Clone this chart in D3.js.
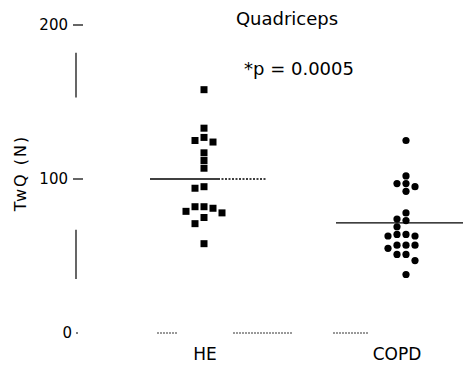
<!DOCTYPE html>
<html>
<head>
<meta charset="utf-8">
<script src="https://cdn.jsdelivr.net/npm/d3@7"></script>
<style>
  body { margin: 0; background: #fff; }
  text { font-family: "DejaVu Sans", sans-serif; fill: #000; }
</style>
</head>
<body>
<svg></svg>
<script>
// TwQ quadriceps, HE vs COPD

const width = 463;
const height = 365;

const groups = ["HE", "COPD"];
const heValues = [158, 133, 127, 125, 124, 117, 112, 107, 95, 94, 82, 82, 81, 79, 78, 75, 71, 58];
const copdValues = [125, 102, 97, 97, 95, 92, 78, 74, 73, 69, 64, 64, 63, 63, 57, 57, 57, 55, 51, 51, 47, 38];
const medians = [100, 71.5];
const yTicks = [0, 100, 200];

const svg = d3.select("svg").attr("width", width).attr("height", height);

const x = d3.scalePoint().domain(groups).range([204, 406]);

const y = d3.scaleLinear().domain([0, 200]).range([333, 25]);

// eje Y, roto como en el escaneo
const yAxis = svg.append("g").attr("transform", "translate(76,0)");
[[182, 153], [67, 35]].forEach(function (s) {
  yAxis.append("line")
    .attr("y1", y(s[0])).attr("y2", y(s[1]))
    .attr("stroke", "#000").attr("stroke-width", 1.2);
});
yAxis.selectAll(".tick")
  .data(yTicks)
  .enter()
  .append("g")
  .attr("transform", (d) => `translate(0,${y(d)})`)
  .each(function (d) {
    const g = d3.select(this);
    g.append("line").attr("x1", d === 0 ? 0 : -3).attr("x2", d === 0 ? 2 : 7)
      .attr("stroke", "#000").attr("stroke-width", 1.2);
    g.append("text").attr("x", d === 0 ? -4 : -8).attr("dy", "0.36em")
      .style("text-anchor", "end").style("font-size", "15px").text(d);
  });

svg.append("text")
  .attr("transform", `translate(26,${173}) rotate(-90)`)
  .style("text-anchor", "middle")
  .style("font-size", "16px")
  .style("letter-spacing", "2px")
  .text("TwQ (N)");

// eje X punteado
[[157, 177], [233, 292], [333, 368]].forEach(function (s) {
  svg.append("line")
    .attr("x1", s[0]).attr("x2", s[1])
    .attr("y1", y(0)).attr("y2", y(0))
    .attr("stroke", "#000").attr("stroke-dasharray", "2,1").attr("stroke-width", 0.8);
});

svg.append("g")
  .selectAll("text")
  .data(groups)
  .enter()
  .append("text")
  .attr("x", (d) => (d === "HE" ? x(d) + 1 : x(d) - 9))
  .attr("y", 360)
  .style("text-anchor", "middle")
  .style("font-size", "17px")
  .text((d) => d);

// dodge simple para separar puntos
function dodge(values, step, minDist) {
  const placed = [];
  values.slice().sort((a, b) => b - a).forEach(function (v) {
    const py = y(v);
    const slots = [0, -1, 1, -2, 2, -3, 3];
    for (const s of slots) {
      const px = s * step;
      if (placed.every((p) => Math.hypot(p.px - px, p.py - py) >= minDist)) {
        placed.push({ v: v, px: px, py: py });
        break;
      }
    }
  });
  return placed;
}

// medianas
svg.append("line")
  .attr("x1", x("HE") - 54).attr("x2", x("HE") + 14)
  .attr("y1", y(medians[0])).attr("y2", y(medians[0]))
  .attr("stroke", "#000").attr("stroke-width", 1.3);
svg.append("line")
  .attr("x1", x("HE") + 14).attr("x2", x("HE") + 63)
  .attr("y1", y(medians[0])).attr("y2", y(medians[0]))
  .attr("stroke", "#000").attr("stroke-width", 1.3).attr("stroke-dasharray", "2,1.5");
svg.append("line")
  .attr("x1", x("COPD") - 70).attr("x2", x("COPD") + 60)
  .attr("y1", y(medians[1])).attr("y2", y(medians[1]))
  .attr("stroke", "#000").attr("stroke-width", 1.3);

// HE: cuadrados
svg.append("g")
  .selectAll("rect")
  .data(dodge(heValues, 9, 7))
  .enter()
  .append("rect")
  .attr("x", (d) => x("HE") + d.px - 3.5)
  .attr("y", (d) => d.py - 3.5)
  .attr("width", 7)
  .attr("height", 7)
  .attr("fill", "#000");

// COPD: circulos
svg.append("g")
  .selectAll("circle")
  .data(dodge(copdValues, 9, 7))
  .enter()
  .append("circle")
  .attr("cx", (d) => x("COPD") + d.px)
  .attr("cy", (d) => d.py)
  .attr("r", 3.6)
  .attr("fill", "#000");

svg.append("text")
  .attr("x", 287).attr("y", 25)
  .style("text-anchor", "middle")
  .style("font-size", "18px")
  .text("Quadriceps");

svg.append("text")
  .attr("x", 299).attr("y", 75)
  .style("text-anchor", "middle")
  .style("font-size", "18px")
  .text("*p = 0.0005");
</script>
</body>
</html>
